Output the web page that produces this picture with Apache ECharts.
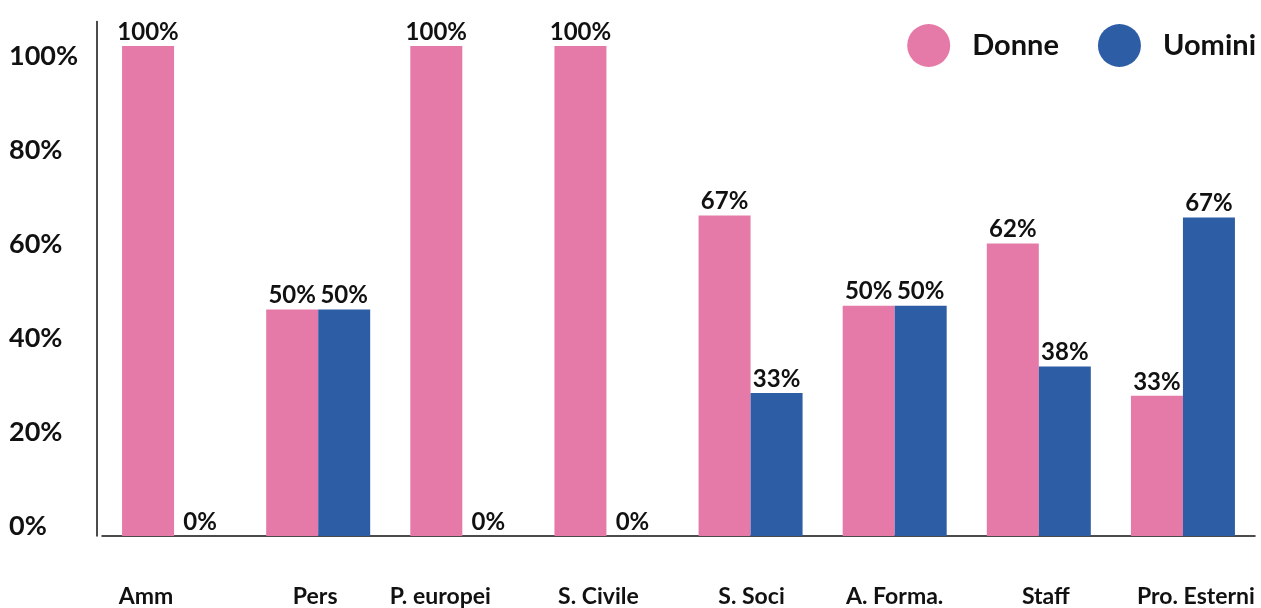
<!DOCTYPE html>
<html>
<head>
<meta charset="utf-8">
<script src="https://cdn.jsdelivr.net/npm/echarts@6/dist/echarts.min.js"></script>
<style>
  html, body { margin: 0; padding: 0; background: #ffffff; }
  #chart { width: 1261px; height: 608px; }
</style>
</head>
<body>
<div id="chart"></div>
<script>
// ---- data ----
const categories = ["Amm", "Pers", "P. europei", "S. Civile", "S. Soci", "A. Forma.", "Staff", "Pro. Esterni"];
const seriesNames = ["Donne", "Uomini"];
// bar heights as drawn (percent of the 100% bar)
const donneValues = [100, 46.2, 100, 100, 65.4, 47.0, 59.7, 28.6];
const uominiValues = [0, 46.2, 0, 0, 29.2, 47.0, 34.6, 65.0];
// printed labels
const donneLabels = ["100%", "50%", "100%", "100%", "67%", "50%", "62%", "33%"];
const uominiLabels = ["0%", "50%", "0%", "0%", "33%", "50%", "38%", "67%"];
const yTickValues = [0, 20, 40, 60, 80, 100];

// ---- style ----
const PINK = "#E57AA8";
const BLUE = "#2D5DA5";
const FONT = "Lato";
const xLabelNudge = [-28, -3, -22, -8, 1, 0, 7, 13];

const rich = {};
xLabelNudge.forEach((d, i) => {
  rich["c" + i] = {
    fontFamily: FONT, fontSize: 23, fontWeight: "bold", color: "#111",
    padding: d >= 0 ? [0, 0, 0, 2 * d] : [0, -2 * d, 0, 0]
  };
});

const chart = echarts.init(document.getElementById("chart"), null, { renderer: "canvas" });
chart.setOption({
  animation: false,
  backgroundColor: "#ffffff",
  grid: { left: 102, right: 6, top: 21.5, bottom: 72, containLabel: false },
  legend: {
    data: seriesNames,
    right: 5, top: 24,
    padding: 0,
    icon: "circle",
    itemWidth: 43, itemHeight: 43,
    itemGap: 39,
    textStyle: { fontFamily: FONT, fontSize: 29, fontWeight: "bold", color: "#111", padding: [0, 0, 0, 17] }
  },
  xAxis: {
    type: "category",
    data: categories,
    axisLine: { show: true, lineStyle: { color: "#111", width: 1.5 } },
    axisTick: { show: false },
    axisLabel: {
      interval: 0,
      margin: 49,
      formatter: (v, i) => "{c" + i + "|" + v + "}",
      rich: rich
    },
    splitLine: { show: false }
  },
  yAxis: [
    {
      type: "value", min: 0, max: 105,
      offset: 5,
      axisLine: { show: true, lineStyle: { color: "#111", width: 1.5 } },
      axisTick: { show: false },
      axisLabel: { show: false },
      splitLine: { show: false }
    },
    {
      type: "value", min: -2.128, max: 107.34,
      position: "left",
      axisLine: { show: false },
      axisTick: { show: false },
      splitLine: { show: false },
      axisLabel: {
        customValues: yTickValues,
        formatter: v => Math.round(v) + "%",
        align: "left",
        margin: 93,
        fontFamily: FONT, fontSize: 27, fontWeight: "bold", color: "#111"
      }
    }
  ],
  series: [
    {
      name: seriesNames[0], type: "bar", data: donneValues,
      barWidth: 52, barGap: "0%",
      itemStyle: { color: PINK },
      label: {
        show: true, position: "top", distance: 2,
        formatter: p => donneLabels[p.dataIndex],
        fontFamily: FONT, fontSize: 24, fontWeight: "bold", color: "#111"
      }
    },
    {
      name: seriesNames[1], type: "bar", data: uominiValues,
      barWidth: 52, barGap: "0%",
      itemStyle: { color: BLUE },
      label: {
        show: true, position: "top", distance: 2,
        formatter: p => uominiLabels[p.dataIndex],
        fontFamily: FONT, fontSize: 24, fontWeight: "bold", color: "#111"
      }
    }
  ]
});
</script>
</body>
</html>
